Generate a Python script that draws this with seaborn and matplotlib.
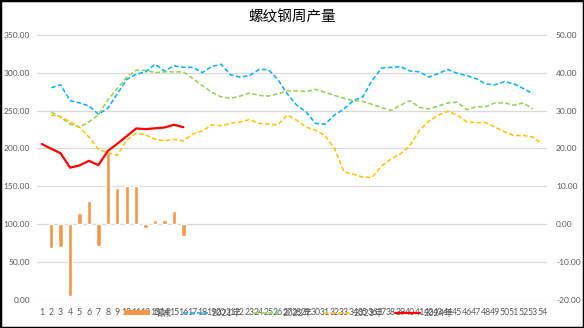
import numpy as np
import pandas as pd
import matplotlib
matplotlib.use("Agg")
import matplotlib.pyplot as plt
from matplotlib.patches import Patch, Rectangle
from matplotlib.ticker import FormatStrFormatter, FixedLocator
import seaborn as sns

nan = np.nan

# week numbers (x categories)
weeks = list(range(1, 55))

# weekly rebar output (10k t), one list per year, week 1..54
y2021 = [nan, 280, 284, 263, 260, 256, 245, 253, 272, 291,
         298, 301, 311, 302, 309, 307, 307, 300, 308, 311,
         297, 294, 296, 304, 304, 291, 272, 257, 248, 233,
         232, 244, 252, 263, 268, 290, 306, 307, 308, 302,
         301, 294, 299, 304, 299, 296, 292, 285, 284, 288,
         285, 279, 272, nan]
y2022 = [nan, 248, 241, 232, 228, 235, 244, 264, 279, 294,
         303, 303, 300, 301, 301, 301, 292, 283, 274, 268,
         266, 269, 273, 270, 269, 272, 276, 276, 275, 278,
         274, 270, 266, 263, 262, 258, 254, 250, 257, 263,
         254, 252, 256, 260, 261, 251, 255, 255, 260, 260,
         257, 260, 252, nan]
y2023 = [nan, 244, 242, 235, 228, 215, 199, 194, 191, 211,
         220, 218, 212, 210, 212, 210, 219, 223, 231, 230,
         233, 235, 238, 233, 232, 231, 244, 237, 228, 224,
         217, 200, 169, 166, 162, 162, 177, 186, 193, 204,
         224, 236, 244, 249, 244, 235, 234, 234, 228, 222,
         217, 217, 215, 206]
y2024 = [205.8, 199.6, 193.5, 174.6, 177.5, 183.6, 177.9, 196.6, 206.1, 216.2,
         226.3, 225.4, 226.5, 227.6, 231.2, 228.0] + [nan] * 38

# week-on-week change of 2024 output (right axis)
change_weeks = list(range(2, 17))
change = [-6.2, -6.1, -18.9, 2.9, 6.1, -5.7, 18.7, 9.5, 10.1, 10.1,
          -0.9, 1.1, 1.1, 3.6, -3.2]

series_names = ["2021年", "2022年", "2023年", "2024年"]
change_name = "增减"

sns.set_theme(style="white")
plt.rcParams["font.family"] = ["Lato", "Noto Sans CJK SC", "DejaVu Sans"]

W, H = 584, 328
fig = plt.figure(figsize=(W / 100, H / 100), dpi=100)
fig.patch.set_facecolor("white")

left, right, top, bottom = 37, 547, 34.7, 300
ax = fig.add_axes([left / W, 1 - bottom / H, (right - left) / W, (bottom - top) / H])
ax2 = ax.twinx()
ax.set_zorder(2)
ax2.set_zorder(1)
ax.patch.set_visible(False)

# bars on the right-hand axis
bar_df = pd.DataFrame({"周": change_weeks, "增减": change})
sns.barplot(data=bar_df, x="周", y="增减", native_scale=True, ax=ax2,
            color="#F79646", saturation=1, width=0.45, errorbar=None)

# year lines on the left-hand axis
colors = ["#00B0F0", "#92D050", "#FFC000", "#FF0000"]
for name, vals, c in zip(series_names, [y2021, y2022, y2023, y2024], colors):
    df = pd.DataFrame({"周": weeks, "产量": vals})
    if name == "2024年":
        sns.lineplot(data=df, x="周", y="产量", ax=ax, color=c, linewidth=1.6,
                     label=name)
    else:
        sns.lineplot(data=df, x="周", y="产量", ax=ax, color=c, linewidth=1.1,
                     linestyle=(0, (3, 1.6)), label=name)
ax.get_legend().remove()

# axes scales
ax.set_xlim(0.5, 54.5)
ax.set_ylim(0, 350)
ax2.set_ylim(-20, 50)
ax.yaxis.set_major_locator(FixedLocator(np.arange(0, 351, 50)))
ax2.yaxis.set_major_locator(FixedLocator(np.arange(-20, 51, 10)))
ax.yaxis.set_major_formatter(FormatStrFormatter("%.2f"))
ax2.yaxis.set_major_formatter(FormatStrFormatter("%.2f"))
ax.set_xticks(weeks)
ax.set_xticklabels([str(w) for w in weeks])

ax2.yaxis.grid(True, color="#D9D9D9", linewidth=0.9)
ax2.xaxis.grid(False)
ax.grid(False)
ax2.set_axisbelow(True)

for a in (ax, ax2):
    for s in a.spines.values():
        s.set_visible(False)
    a.set_xlabel("")
    a.set_ylabel("")

ax.tick_params(axis="y", length=0, labelsize=6, labelcolor="#595959", pad=5)
ax.tick_params(axis="x", length=0, labelsize=6.3, labelcolor="#595959", pad=5.5)
ax2.tick_params(axis="y", length=0, labelsize=6, labelcolor="#595959", pad=6.5)

fig.text(0.5, 1 - 17 / H, "螺纹钢周产量", ha="center", va="center",
         fontsize=10.5, color="black", family=["Noto Sans CJK SC", "DejaVu Sans"])

# legend along the bottom edge
line_handles, line_labels = ax.get_legend_handles_labels()
handles = [Patch(facecolor="#F79646", edgecolor="none")] + line_handles
labels = [change_name] + line_labels
fig.legend(handles, labels, loc="center", bbox_to_anchor=(0.495, 1 - 313 / H),
           ncol=5, frameon=False, fontsize=6.5, labelcolor="#595959",
           handlelength=2.8, handleheight=0.5, columnspacing=1.3,
           handletextpad=0.4)

# outer frame
fig.patches.append(Rectangle((0, 0), 1, 1, transform=fig.transFigure,
                             fill=False, edgecolor="black", linewidth=2.5))

fig.savefig("out.png", dpi=100)
